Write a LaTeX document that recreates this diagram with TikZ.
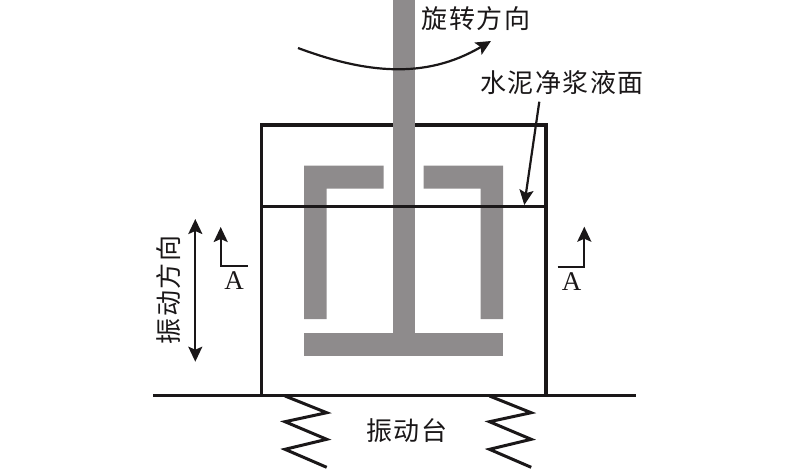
\documentclass[tikz,border=0pt]{standalone}
\usepackage{fontspec}
\usetikzlibrary{arrows.meta}
\setmainfont{Liberation Serif}
\newfontfamily\cjk[LetterSpace=6]{Noto Sans CJK SC}
\definecolor{paddle}{HTML}{8E8B8C}
\definecolor{ink}{HTML}{1A1718}
\tikzset{
  x=1pt,y=-1pt,
  gray part/.style={fill=paddle,draw=none},
  wall/.style={draw=ink,line width=3.2pt,line join=miter},
  surface/.style={draw=ink,line width=2.6pt},
  thin arrow/.style={draw=ink,line width=2.2pt,-{Stealth[length=15pt,width=14pt,inset=3pt]}},
  double arrow/.style={draw=ink,line width=2.2pt,{Stealth[length=15pt,width=14pt,inset=3pt]}-{Stealth[length=15pt,width=14pt,inset=3pt]}},
  springline/.style={draw=ink,line width=3pt,line join=miter},
  cn/.style={text=ink,inner sep=0pt,font={\fontsize{26}{26}\selectfont\cjk}},
  letter/.style={text=ink,inner sep=0pt,font={\fontsize{27}{27}\selectfont}},
}
\begin{document}
\begin{tikzpicture}
\useasboundingbox (0,0) rectangle (800,469);
% container walls and rim
\draw[wall] (261.7,395.5) -- (261.7,125) -- (546,125) -- (546,395.5);
% stirrer
\fill[gray part] (392.5,0) rectangle (415,334);
\fill[gray part] (304,333) rectangle (503,356);
\fill[gray part] (304,319) -- (304,165.5) -- (383.5,165.5) -- (383.5,188.5) -- (326.5,188.5) -- (326.5,319) -- cycle;
\fill[gray part] (503,319) -- (503,165.5) -- (423.5,165.5) -- (423.5,188.5) -- (480.7,188.5) -- (480.7,319) -- cycle;
% liquid surface and table
\coordinate (surfL) at (261.7,206.7);
\coordinate (surfR) at (546,206.7);
\coordinate (surfT) at (524.3,205);
\draw[surface] (surfL) -- (surfR);
\coordinate (tableL) at (153,395.5);
\coordinate (tableR) at (636,395.5);
\draw[wall] (tableL) -- (tableR);
% springs
\draw[springline] (285,396) -- (326.7,412.7) -- (285,421.7) -- (326.7,439.3) -- (285,449.3) -- (326.7,467.3);
\draw[springline] (489.5,396) -- (531.2,412.7) -- (489.5,421.7) -- (531.2,439.3) -- (489.5,449.3) -- (531.2,467.3);
% labels
\node[cn] (rot) at (476,19) {旋转方向};
\node[cn] (liq) at (562,83) {水泥净浆液面};
\node[cn] (tab) at (407,431) {振动台};
\node[cn,rotate=90] (vib) at (169,290) {振动方向};
\node[letter] (aL) at (234,281) {A};
\node[letter] (aR) at (571.7,281.5) {A};
% rotation arrow
\coordinate (rotS) at (298,48);
\coordinate (rotE) at (491,41);
\draw[thin arrow] (rotS) .. controls (365,73) and (425,80) .. (rotE);
% surface leader
\coordinate (liqS) at (539.3,101.7);
\draw[thin arrow] (liqS) -- (surfT);
% vibration arrow
\coordinate (vibT) at (195.3,219);
\coordinate (vibB) at (195.3,361.7);
\draw[double arrow] (vibT) -- (vibB);
% section marks
\coordinate (secLt) at (220.7,227);
\coordinate (secLc) at (220.7,266.3);
\coordinate (secLe) at (247.7,266.3);
\draw[thin arrow] (secLe) -- (secLc) -- (secLt);
\coordinate (secRt) at (584.3,226.7);
\coordinate (secRc) at (584.3,266.7);
\coordinate (secRe) at (557.7,266.7);
\draw[thin arrow] (secRe) -- (secRc) -- (secRt);
\end{tikzpicture}
\end{document}
